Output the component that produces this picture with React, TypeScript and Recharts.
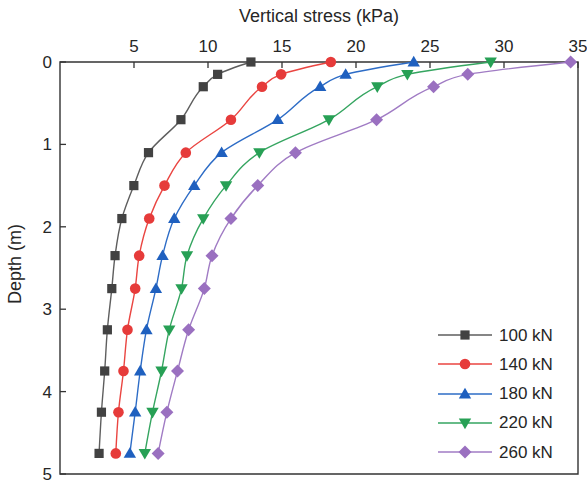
import React from 'react';
import {
  LineChart,
  Line,
  XAxis,
  YAxis,
  Legend,
  ReferenceArea
} from 'recharts';

const depths = [0, 0.15, 0.3, 0.7, 1.1, 1.5, 1.9, 2.35, 2.75, 3.25, 3.75, 4.25, 4.75];
const load100 = [12.9, 10.65, 9.68, 8.17, 5.98, 4.99, 4.18, 3.72, 3.5, 3.2, 3.02, 2.8, 2.64];
const load140 = [18.3, 14.94, 13.65, 11.55, 8.5, 7.06, 6.03, 5.35, 5.08, 4.56, 4.29, 3.95, 3.77];
const load180 = [23.9, 19.3, 17.58, 14.71, 10.92, 9.07, 7.72, 6.93, 6.48, 5.84, 5.42, 5.08, 4.72];
const load220 = [29.1, 23.47, 21.44, 18.17, 13.47, 11.22, 9.68, 8.58, 8.21, 7.38, 6.86, 6.25, 5.73];
const load260 = [34.5, 27.55, 25.24, 21.39, 15.91, 13.36, 11.55, 10.27, 9.75, 8.69, 7.94, 7.22, 6.63];

const xTicks = [5, 10, 15, 20, 25, 30, 35];
const yTicks = [0, 1, 2, 3, 4, 5];

const FONT = '"Liberation Sans", Arial, sans-serif';
const INK = '#262626';

type Shape = 'square' | 'circle' | 'up' | 'down' | 'diamond';

const series: { key: string; name: string; line: string; fill: string; shape: Shape }[] = [
  { key: 's100', name: '100 kN', line: '#5e5e5e', fill: '#424242', shape: 'square' },
  { key: 's140', name: '140 kN', line: '#ea4541', fill: '#e63b3a', shape: 'circle' },
  { key: 's180', name: '180 kN', line: '#2d6cc6', fill: '#1f60bf', shape: 'up' },
  { key: 's220', name: '220 kN', line: '#35a560', fill: '#27a055', shape: 'down' },
  { key: 's260', name: '260 kN', line: '#a07bc4', fill: '#9a70c0', shape: 'diamond' },
];

const data = depths.map((d, i) => ({
  depth: d,
  s100: load100[i],
  s140: load140[i],
  s180: load180[i],
  s220: load220[i],
  s260: load260[i],
}));

const Marker = ({ shape, cx, cy, color }: { shape: Shape; cx: number; cy: number; color: string }) => {
  if (shape === 'square') return <rect x={cx - 4.6} y={cy - 4.6} width={9.2} height={9.2} fill={color} />;
  if (shape === 'circle') return <circle cx={cx} cy={cy} r={5.3} fill={color} />;
  if (shape === 'up')
    return <polygon points={`${cx},${cy - 6.2} ${cx + 6.2},${cy + 4.4} ${cx - 6.2},${cy + 4.4}`} fill={color} />;
  if (shape === 'down')
    return <polygon points={`${cx},${cy + 6.2} ${cx + 6.2},${cy - 4.4} ${cx - 6.2},${cy - 4.4}`} fill={color} />;
  return <polygon points={`${cx},${cy - 6.5} ${cx + 6.5},${cy} ${cx},${cy + 6.5} ${cx - 6.5},${cy}`} fill={color} />;
};

const makeDot = (shape: Shape, color: string) => (props: any) => {
  const { cx, cy, index } = props;
  if (cx == null || cy == null) return <g key={`d-${index}`} />;
  return (
    <g key={`d-${shape}-${index}`}>
      <Marker shape={shape} cx={cx} cy={cy} color={color} />
    </g>
  );
};

// ticks point inward, so draw them ourselves
const XTick = (props: any) => {
  const { x, y, payload } = props;
  return (
    <g>
      <line x1={x} x2={x} y1={y} y2={y + 6} stroke="#333" strokeWidth={1.3} />
      <text x={x} y={y - 10} textAnchor="middle" fill={INK} fontSize={17} fontFamily={FONT}>
        {payload.value}
      </text>
    </g>
  );
};

const YTick = (props: any) => {
  const { x, y, payload } = props;
  return (
    <g>
      <line x1={x} x2={x + 6} y1={y} y2={y} stroke="#333" strokeWidth={1.3} />
      <text x={x - 8} y={y + 6} textAnchor="end" fill={INK} fontSize={17} fontFamily={FONT}>
        {payload.value}
      </text>
    </g>
  );
};

const DepthTitle = (props: any) => {
  const vb = props.viewBox || { x: 0, y: 62, width: 60, height: 412 };
  const cx = vb.x + 15;
  const cy = vb.y + vb.height / 2 - 4;
  return (
    <text
      x={cx}
      y={cy}
      transform={`rotate(-90, ${cx}, ${cy})`}
      textAnchor="middle"
      dominantBaseline="central"
      fill={INK}
      fontSize={18}
      fontFamily={FONT}
    >
      Depth (m)
    </text>
  );
};

const LegendBox = () => (
  <div style={{ fontFamily: FONT, fontSize: 17, color: INK }}>
    {series.map((s) => (
      <div key={s.key} style={{ display: 'flex', alignItems: 'center', height: 29.25 }}>
        <svg width={54} height={16} style={{ display: 'block' }}>
          <line x1={0} x2={54} y1={8} y2={8} stroke={s.line} strokeWidth={1.4} />
          <Marker shape={s.shape} cx={27} cy={8} color={s.fill} />
        </svg>
        <span style={{ marginLeft: 7, lineHeight: '17px' }}>{s.name}</span>
      </div>
    ))}
  </div>
);

const App: React.FC = () => {
  return (
    <div style={{ position: 'absolute', left: 0, top: 0, width: 587, height: 486, background: '#fff' }}>
      <LineChart
        width={587}
        height={486}
        layout="vertical"
        data={data}
        margin={{ top: 27, right: 9, bottom: 12, left: 0 }}
      >
        <XAxis
          type="number"
          orientation="top"
          domain={[0, 35]}
          ticks={xTicks}
          height={35}
          axisLine={false}
          tickLine={false}
          tickSize={0}
          tickMargin={0}
          tick={<XTick />}
          interval={0}
          label={{ value: 'Vertical stress (kPa)', position: 'top', offset: 5, fill: INK, fontSize: 18, fontFamily: FONT }}
        />
        <YAxis
          type="number"
          dataKey="depth"
          domain={[0, 5]}
          ticks={yTicks}
          width={60}
          axisLine={false}
          tickLine={false}
          tickSize={0}
          tickMargin={0}
          tick={<YTick />}
          interval={0}
          label={{ content: <DepthTitle /> }}
        />
        <ReferenceArea x1={0} x2={35} y1={0} y2={5} fill="none" stroke="#333" strokeWidth={1.4} />
        {series.map((s) => (
          <Line
            key={s.key}
            type="monotone"
            dataKey={s.key}
            name={s.name}
            stroke={s.line}
            strokeWidth={1.4}
            dot={makeDot(s.shape, s.fill)}
            activeDot={false}
            isAnimationActive={false}
          />
        ))}
        <Legend
          layout="horizontal"
          verticalAlign="middle"
          align="center"
          content={<LegendBox />}
          wrapperStyle={{ left: 438, top: 320.5, width: 140, height: 150 }}
        />
      </LineChart>
    </div>
  );
};

export default App;
